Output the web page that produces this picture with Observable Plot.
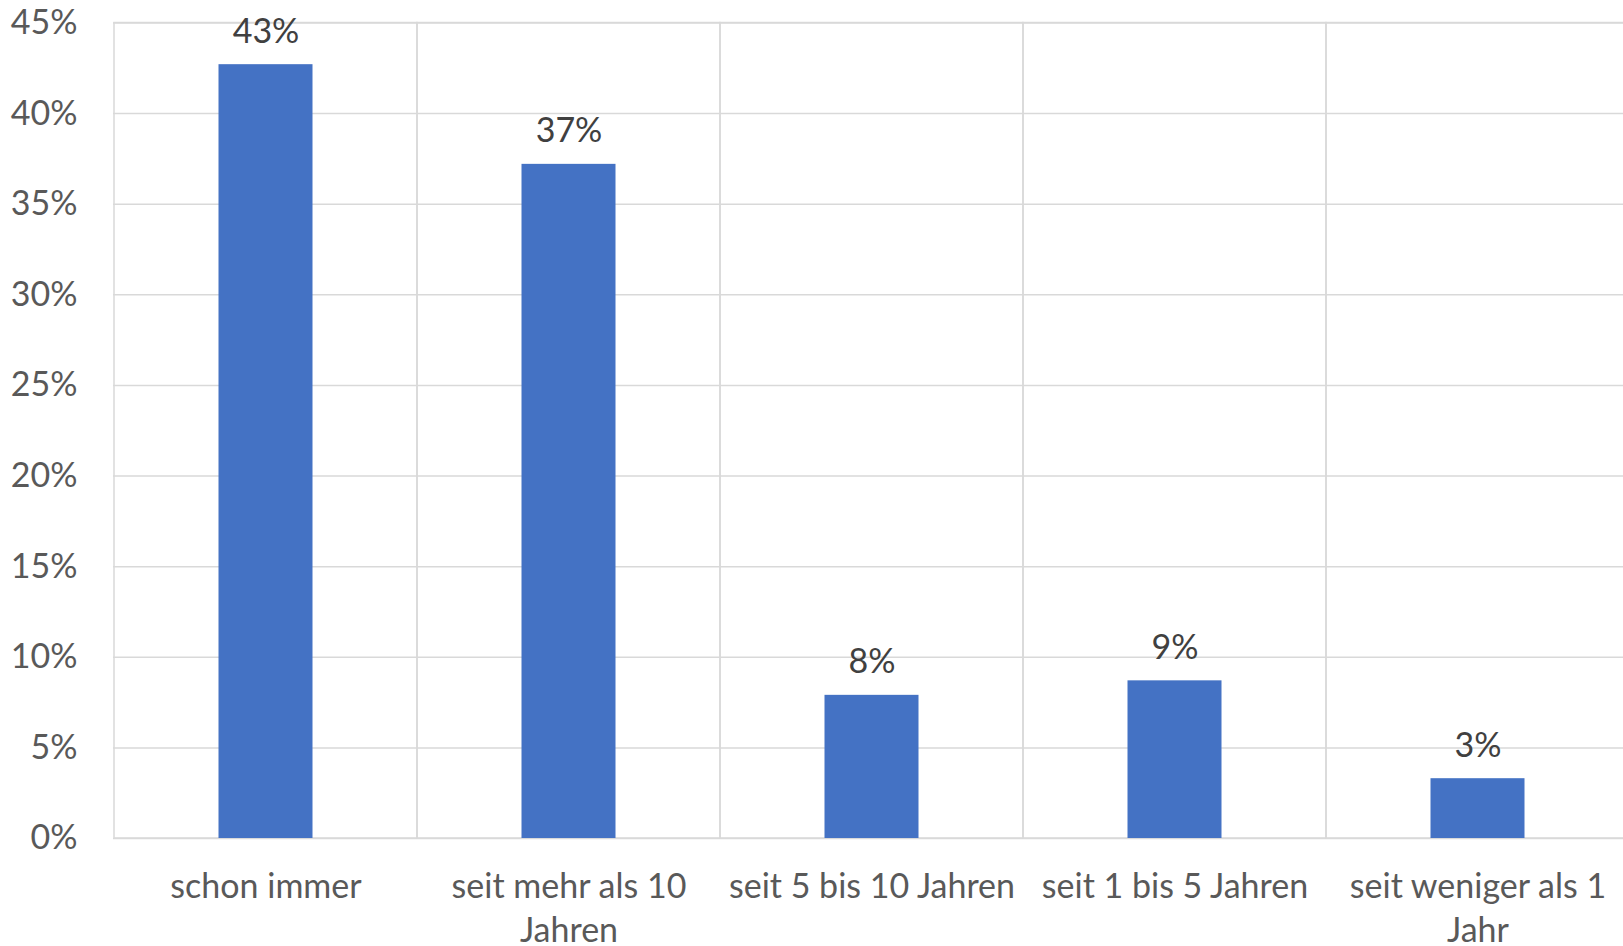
<!DOCTYPE html>
<html>
<head>
<meta charset="utf-8">
<script src="https://cdn.jsdelivr.net/npm/d3@7"></script>
<script src="https://cdn.jsdelivr.net/npm/@observablehq/plot@0.6"></script>
<style>
  html, body { margin: 0; padding: 0; background: #fff; }
  #chart svg { display: block; }
</style>
</head>
<body>
<div id="chart"></div>
<script>
const categories = ["schon immer", "seit mehr als 10 Jahren", "seit 5 bis 10 Jahren", "seit 1 bis 5 Jahren", "seit weniger als 1 Jahr"];
const values = [42.7, 37.2, 7.9, 8.7, 3.3];
const yTicks = [0, 5, 10, 15, 20, 25, 30, 35, 40, 45];

const data = categories.map((c, i) => ({category: c, value: values[i]}));

const W = 1623, H = 946;
const left = 113, right = 1630.5;
const bw = (right - left) / categories.length;
const barW = 94.5;
const inset = (bw - barW) / 2;
const FS = 34;

// wrap labels to the band width using the real font metrics
const ctx = document.createElement("canvas").getContext("2d");
ctx.font = `${FS}px Lato`;
function wrap(s) {
  const words = s.split(" ");
  const lines = [];
  let cur = "";
  for (const w of words) {
    const t = cur ? cur + " " + w : w;
    if (cur && ctx.measureText(t).width > bw - 4) { lines.push(cur); cur = w; }
    else cur = t;
  }
  lines.push(cur);
  return lines.join("\n");
}

const chart = Plot.plot({
  width: W,
  height: H,
  marginLeft: left,
  marginRight: W - right,
  marginTop: 22.5,
  marginBottom: H - 838,
  style: {fontFamily: "Lato, sans-serif", fontSize: FS + "px", color: "#595959", background: "#fff", overflow: "hidden"},
  x: {domain: categories, padding: 0},
  y: {domain: [0, 45], ticks: yTicks},
  marks: [
    Plot.gridY(yTicks, {stroke: "#d9d9d9", strokeOpacity: 1, strokeWidth: 1.5}),
    Plot.barY(categories, {x: d => d, y1: 0, y2: 45, fill: "none", stroke: "#d9d9d9", strokeWidth: 1.5}),
    Plot.barY(data, {x: "category", y: "value", fill: "#4472C4", insetLeft: inset, insetRight: inset}),
    Plot.text(data, {x: "category", y: "value", text: d => Math.round(d.value) + "%", dy: -33, fill: "#404040", fontSize: FS, lineAnchor: "middle"}),
    Plot.axisY(yTicks, {tickSize: 0, tickPadding: 36, tickFormat: d => d + "%", fill: "#595959", fontSize: FS, label: null}),
    Plot.axisX({tickSize: 0, tickPadding: 28, tickFormat: wrap, fill: "#595959", fontSize: FS, lineHeight: 1.3, label: null})
  ]
});
document.getElementById("chart").appendChild(chart);
</script>
</body>
</html>
